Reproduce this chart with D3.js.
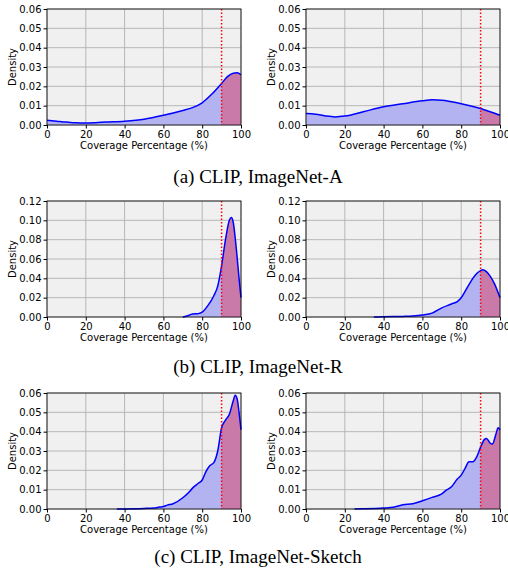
<!DOCTYPE html>
<head>
  <meta charset="utf-8">
  <script src="https://d3js.org/d3.v7.min.js"></script>
  <style>
    body { margin:0; background:#fff; }
    .tick text { font-family: "DejaVu Sans", sans-serif; font-size:10px; fill:#000; }
  </style>
</head>
<body>
<script>
// coverage (%) sample positions and estimated kde densities for each panel
var xA1 = [0, 5, 10, 15, 20, 25, 30, 40, 50, 60, 70, 75, 80, 85, 90, 93, 96, 98, 100];
var yA1 = [0.0025, 0.002, 0.0015, 0.0011, 0.001, 0.0012, 0.0015, 0.002, 0.003, 0.005, 0.0075, 0.009, 0.0115, 0.016, 0.0215, 0.025, 0.0268, 0.027, 0.026];

var xA2 = [0, 5, 10, 15, 20, 30, 40, 50, 60, 65, 70, 80, 90, 100];
var yA2 = [0.006, 0.0056, 0.0047, 0.0042, 0.0046, 0.007, 0.0094, 0.011, 0.0125, 0.013, 0.0128, 0.011, 0.0085, 0.005];

var xR1 = [70, 72, 75, 78, 80, 83, 86, 88, 90, 92, 94, 95, 96, 97, 98, 99, 100];
var yR1 = [0, 0.001, 0.003, 0.0035, 0.005, 0.012, 0.022, 0.032, 0.053, 0.08, 0.1, 0.103, 0.098, 0.082, 0.062, 0.04, 0.02];

var xR2 = [35, 40, 50, 55, 60, 65, 70, 75, 78, 80, 83, 86, 88, 90, 91, 93, 95, 97, 100];
var yR2 = [0, 0.0003, 0.0006, 0.001, 0.002, 0.004, 0.0095, 0.0135, 0.016, 0.02, 0.03, 0.04, 0.045, 0.048, 0.049, 0.047, 0.042, 0.035, 0.02];

var xS1 = [36, 50, 55, 58, 60, 62, 65, 70, 73, 75, 78, 80, 82, 84, 86, 88, 90, 92, 94, 96, 97, 98, 99, 100];
var yS1 = [0, 0.0003, 0.0005, 0.001, 0.0013, 0.002, 0.0027, 0.0058, 0.0085, 0.0108, 0.0133, 0.015, 0.0195, 0.0225, 0.024, 0.03, 0.042, 0.046, 0.049, 0.056, 0.0588, 0.057, 0.05, 0.041];

var xS2 = [25, 30, 40, 45, 50, 55, 60, 65, 70, 72, 75, 78, 80, 82, 84, 86, 88, 90, 92, 93, 95, 96, 98, 99, 100];
var yS2 = [0, 0.0001, 0.0005, 0.0009, 0.0022, 0.0027, 0.0043, 0.006, 0.0078, 0.0095, 0.0115, 0.0155, 0.0175, 0.021, 0.0245, 0.0245, 0.027, 0.032, 0.036, 0.0365, 0.034, 0.0335, 0.039, 0.042, 0.041];

var yMaxes = [0.06, 0.12, 0.06];
var yTicks = [d3.range(0, 0.061, 0.01), d3.range(0, 0.121, 0.02), d3.range(0, 0.061, 0.01)];
var xTicks = [0, 20, 40, 60, 80, 100];
var threshold = 90;
var captions = ["(a) CLIP, ImageNet-A", "(b) CLIP, ImageNet-R", "(c) CLIP, ImageNet-Sketch"];

var panels = [
  [[xA1, yA1], [xA2, yA2]],
  [[xR1, yR1], [xR2, yR2]],
  [[xS1, yS1], [xS2, yS2]]
];

var width = 508, height = 575;
var svg = d3.select("body").append("svg")
    .attr("width", width)
    .attr("height", height);

var colLeft = [47, 306], plotW = 194;
var rowTop = [9, 201, 393], plotH = 116;
var captionY = [183, 373, 563];

panels.forEach(function(row, r) {
  row.forEach(function(p, c) {
    var x = d3.scaleLinear().domain([0, 100]).range([0, plotW]);
    var y = d3.scaleLinear().domain([0, yMaxes[r]]).range([plotH, 0]);
    var g = svg.append("g").attr("transform", "translate(" + colLeft[c] + "," + rowTop[r] + ")");

    g.append("rect").attr("width", plotW).attr("height", plotH).attr("fill", "#f0f0f0");

    // grid
    g.selectAll(".gx").data(xTicks).enter().append("line")
      .attr("x1", d => x(d)).attr("x2", d => x(d))
      .attr("y1", 0).attr("y2", plotH)
      .attr("stroke", "#b0b0b0").attr("stroke-width", 0.9);
    g.selectAll(".gy").data(yTicks[r]).enter().append("line")
      .attr("y1", d => y(d)).attr("y2", d => y(d))
      .attr("x1", 0).attr("x2", plotW)
      .attr("stroke", "#b0b0b0").attr("stroke-width", 0.9);

    var pts = p[0].map(function(v, i) { return [v, p[1][i]]; });
    var hi = pts.filter(d => d[0] >= threshold);

    var area = d3.area().x(d => x(d[0])).y0(y(0)).y1(d => y(d[1])).curve(d3.curveMonotoneX);
    var line = d3.line().x(d => x(d[0])).y(d => y(d[1])).curve(d3.curveMonotoneX);

    g.append("path").attr("d", area(pts)).attr("fill", "#b3b3f2");
    g.append("path").attr("d", area(hi)).attr("fill", "#c97aa8");
    g.append("path").attr("d", line(pts)).attr("fill", "none")
      .attr("stroke", "#0000ff").attr("stroke-width", 1.5);

    g.append("line")
      .attr("x1", x(threshold)).attr("x2", x(threshold))
      .attr("y1", 0).attr("y2", plotH)
      .attr("stroke", "red").attr("stroke-width", 1.5)
      .attr("stroke-dasharray", "1.5,2");

    g.append("rect").attr("width", plotW).attr("height", plotH)
      .attr("fill", "none").attr("stroke", "#000").attr("stroke-width", 0.8);

    g.append("g").attr("transform", "translate(0," + plotH + ")")
      .call(d3.axisBottom(x).tickValues(xTicks).tickSize(3.5).tickPadding(2))
      .call(a => a.select(".domain").remove());
    g.append("g")
      .call(d3.axisLeft(y).tickValues(yTicks[r]).tickSize(3.5).tickPadding(2)
        .tickFormat(d3.format(".2f")))
      .call(a => a.select(".domain").remove());

    g.append("text")
      .attr("x", plotW / 2).attr("y", plotH + 24)
      .attr("text-anchor", "middle")
      .style("font-family", "DejaVu Sans").style("font-size", "10px")
      .text("Coverage Percentage (%)");
    g.append("text")
      .attr("transform", "translate(-31," + (plotH / 2) + ") rotate(-90)")
      .attr("text-anchor", "middle")
      .style("font-family", "DejaVu Sans").style("font-size", "10px")
      .text("Density");
  });

  svg.append("text")
    .attr("x", 258).attr("y", captionY[r])
    .attr("text-anchor", "middle")
    .style("font-family", "Liberation Serif").style("font-size", "19px")
    .text(captions[r]);
});
</script>
</body>
